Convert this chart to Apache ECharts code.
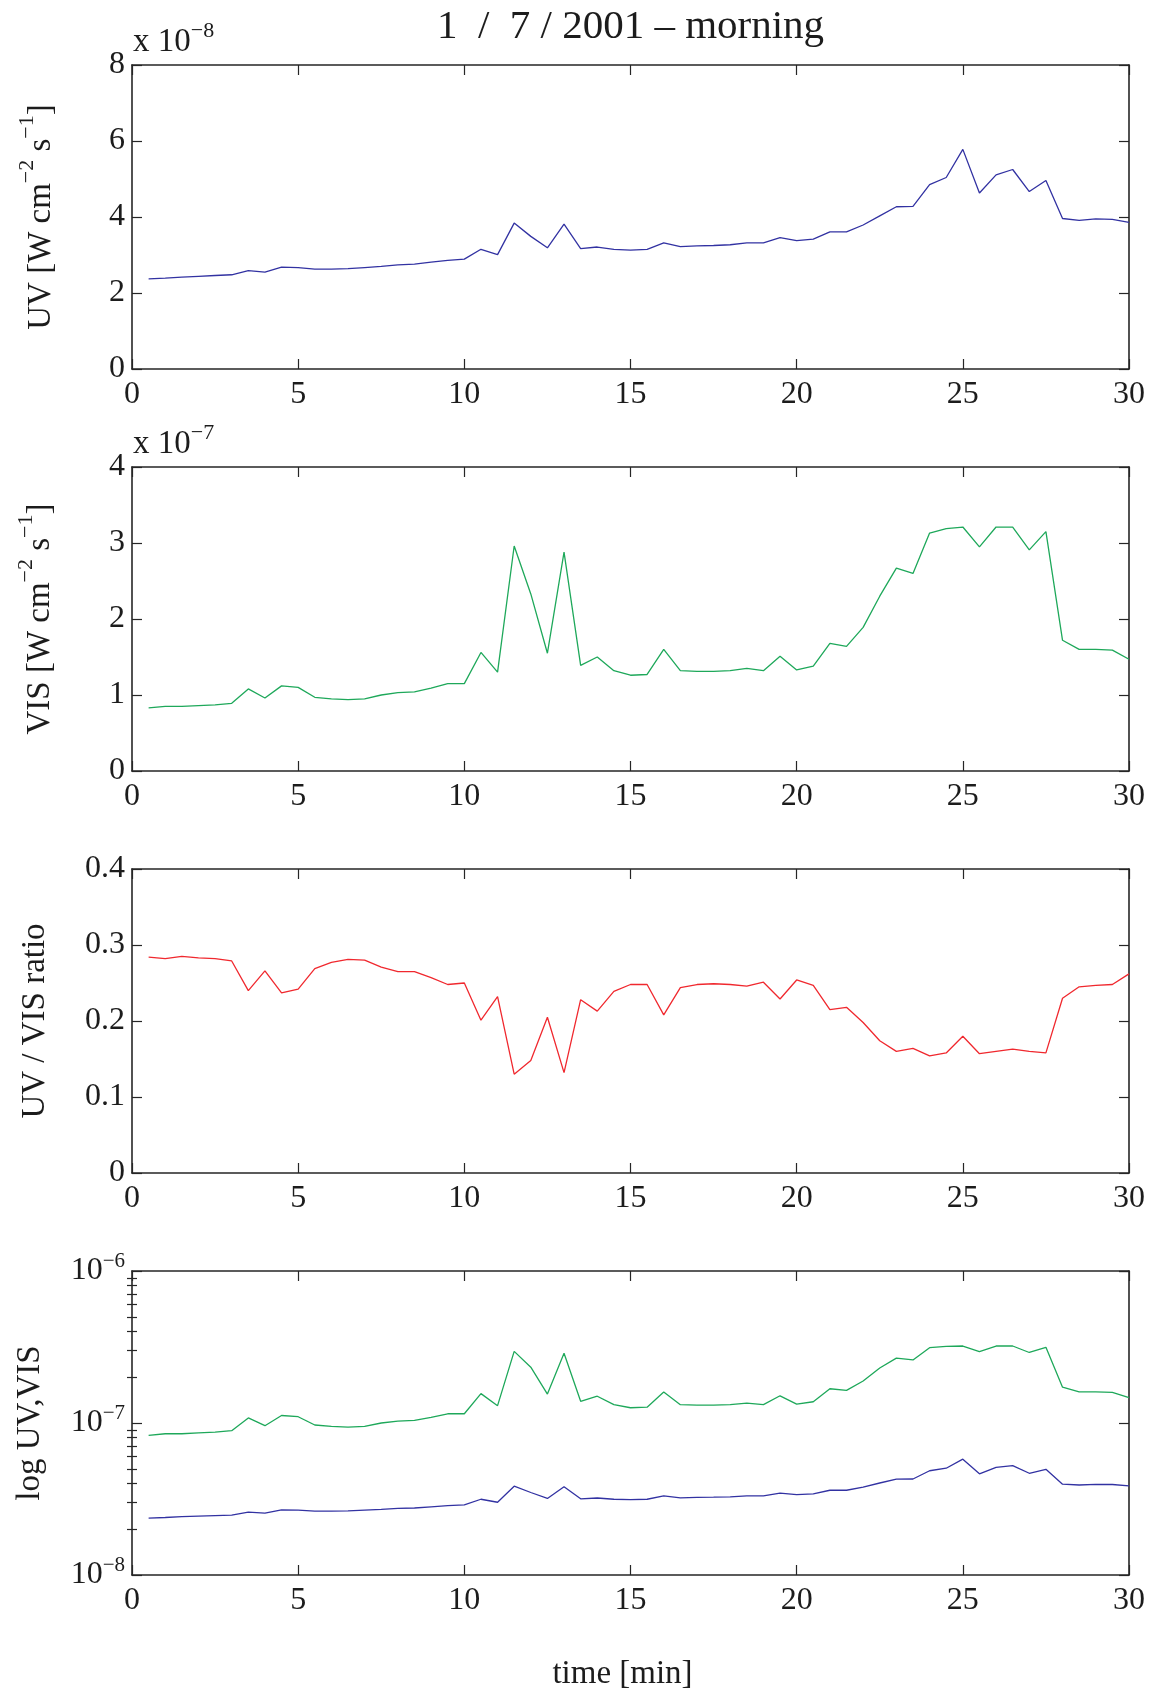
<!DOCTYPE html>
<html>
<head>
<meta charset="utf-8">
<script src="https://cdn.jsdelivr.net/npm/echarts@6/dist/echarts.min.js"></script>
<style>
  html, body { margin: 0; padding: 0; background: #fff; }
  #chart { width: 1154px; height: 1690px; }
</style>
</head>
<body>
<div id="chart"></div>
<script>
// Sampling times, minutes
const minutes = [
  0.5, 1.0, 1.5, 2.0, 2.5, 3.0, 3.5, 4.0, 4.5, 5.0,
  5.5, 6.0, 6.5, 7.0, 7.5, 8.0, 8.5, 9.0, 9.5, 10.0,
  10.5, 11.0, 11.5, 12.0, 12.5, 13.0, 13.5, 14.0, 14.5, 15.0,
  15.5, 16.0, 16.5, 17.0, 17.5, 18.0, 18.5, 19.0, 19.5, 20.0,
  20.5, 21.0, 21.5, 22.0, 22.5, 23.0, 23.5, 24.0, 24.5, 25.0,
  25.5, 26.0, 26.5, 27.0, 27.5, 28.0, 28.5, 29.0, 29.5, 30.0
];

// UV irradiance, W cm^-2 s^-1
const uv = [
  2.37e-8, 2.39e-8, 2.42e-8, 2.44e-8, 2.46e-8, 2.48e-8, 2.59e-8, 2.55e-8, 2.68e-8, 2.67e-8,
  2.63e-8, 2.63e-8, 2.64e-8, 2.67e-8, 2.70e-8, 2.74e-8, 2.76e-8, 2.81e-8, 2.86e-8, 2.89e-8,
  3.15e-8, 3.01e-8, 3.84e-8, 3.49e-8, 3.19e-8, 3.81e-8, 3.17e-8, 3.21e-8, 3.15e-8, 3.13e-8,
  3.15e-8, 3.32e-8, 3.22e-8, 3.24e-8, 3.25e-8, 3.27e-8, 3.32e-8, 3.32e-8, 3.46e-8, 3.38e-8,
  3.42e-8, 3.61e-8, 3.61e-8, 3.79e-8, 4.03e-8, 4.27e-8, 4.28e-8, 4.85e-8, 5.04e-8, 5.78e-8,
  4.63e-8, 5.11e-8, 5.25e-8, 4.67e-8, 4.96e-8, 3.96e-8, 3.91e-8, 3.95e-8, 3.94e-8, 3.86e-8
];

// Visible irradiance, W cm^-2 s^-1
const vis = [
  0.83e-7, 0.85e-7, 0.85e-7, 0.86e-7, 0.87e-7, 0.89e-7, 1.08e-7, 0.96e-7, 1.12e-7, 1.10e-7,
  0.97e-7, 0.95e-7, 0.94e-7, 0.95e-7, 1.00e-7, 1.03e-7, 1.04e-7, 1.09e-7, 1.15e-7, 1.15e-7,
  1.56e-7, 1.30e-7, 2.96e-7, 2.33e-7, 1.55e-7, 2.88e-7, 1.39e-7, 1.50e-7, 1.32e-7, 1.26e-7,
  1.27e-7, 1.60e-7, 1.32e-7, 1.31e-7, 1.31e-7, 1.32e-7, 1.35e-7, 1.32e-7, 1.51e-7, 1.33e-7,
  1.38e-7, 1.68e-7, 1.64e-7, 1.89e-7, 2.30e-7, 2.67e-7, 2.60e-7, 3.13e-7, 3.19e-7, 3.21e-7,
  2.95e-7, 3.21e-7, 3.21e-7, 2.91e-7, 3.15e-7, 1.72e-7, 1.60e-7, 1.60e-7, 1.59e-7, 1.47e-7
];

// UV / VIS ratio
const ratio = [
  0.284, 0.282, 0.285, 0.283, 0.282, 0.279, 0.240, 0.266, 0.237, 0.242,
  0.269, 0.277, 0.281, 0.280, 0.271, 0.265, 0.265, 0.257, 0.248, 0.250,
  0.201, 0.232, 0.130, 0.148, 0.205, 0.132, 0.228, 0.213, 0.239, 0.248,
  0.248, 0.208, 0.244, 0.248, 0.249, 0.248, 0.246, 0.251, 0.229, 0.254,
  0.247, 0.215, 0.218, 0.198, 0.174, 0.160, 0.164, 0.154, 0.158, 0.180,
  0.157, 0.160, 0.163, 0.160, 0.158, 0.230, 0.245, 0.247, 0.248, 0.262
];

// Tick values
const timeTicks = [0, 5, 10, 15, 20, 25, 30];
const uvTicks = [0, 2, 4, 6, 8];          // x 10^-8
const visTicks = [0, 1, 2, 3, 4];         // x 10^-7
const ratioTicks = [0, 0.1, 0.2, 0.3, 0.4];
const logMinorTicks = [
  2e-8, 3e-8, 4e-8, 5e-8, 6e-8, 7e-8, 8e-8, 9e-8,
  2e-7, 3e-7, 4e-7, 5e-7, 6e-7, 7e-7, 8e-7, 9e-7
];

const titleText = '1  /  7 / 2001 \u2013 morning';

// ---- layout & styling ----
const FONT = '"Liberation Serif", "Times New Roman", serif';
const INK = '#1c1c1c';
const AXIS = '#262626';
const COL_UV = '#3232a2';
const COL_VIS = '#1ea85a';
const COL_RATIO = '#f0282e';

const PLOT_LEFT = 132, PLOT_W = 997, PLOT_H = 304;
const PLOT_TOPS = [65, 467, 869, 1271];

const TICK_FS = 32, NAME_FS = 33;

const axisLine = { show: true, onZero: false, lineStyle: { color: AXIS, width: 1.6 } };
const tickStyle = (len) => ({ show: true, inside: true, length: len, lineStyle: { color: AXIS, width: 1.2 } });
const supRich = (fs, lh) => ({ sup: { fontSize: fs, fontFamily: FONT, color: INK, verticalAlign: 'top', lineHeight: lh } });

const pairs = (ys) => minutes.map((t, i) => [t, ys[i]]);

const grids = PLOT_TOPS.map(top => ({
  left: PLOT_LEFT, top: top, width: PLOT_W, height: PLOT_H,
  containLabel: false, outerBoundsMode: 'none'
}));

const xAxes = [];
const yAxes = [];

PLOT_TOPS.forEach((_, g) => {
  const isLast = g === PLOT_TOPS.length - 1;
  xAxes.push({
    gridIndex: g, type: 'value', position: 'bottom',
    min: timeTicks[0], max: timeTicks[timeTicks.length - 1], interval: timeTicks[1] - timeTicks[0],
    axisLine: axisLine, axisTick: tickStyle(10), splitLine: { show: false },
    axisLabel: { show: true, margin: 10, fontFamily: FONT, fontSize: TICK_FS, lineHeight: 32, color: INK },
    name: isLast ? 'time [min]' : '',
    nameLocation: 'middle', nameGap: 83,
    nameTextStyle: { fontFamily: FONT, fontSize: NAME_FS, color: INK, padding: [0, 16, 0, 0] }
  });
  xAxes.push({
    gridIndex: g, type: 'value', position: 'top',
    min: timeTicks[0], max: timeTicks[timeTicks.length - 1], interval: timeTicks[1] - timeTicks[0],
    axisLine: axisLine, axisTick: tickStyle(10), splitLine: { show: false },
    axisLabel: { show: false }
  });
});

function linearY(g, ticks, scale, fmt, name, nameGap) {
  const step = ticks[1] - ticks[0];
  yAxes.push({
    gridIndex: g, type: 'value', position: 'left',
    min: ticks[0] * scale, max: ticks[ticks.length - 1] * scale, interval: step * scale,
    axisLine: axisLine, axisTick: tickStyle(10), splitLine: { show: false },
    axisLabel: { margin: 7, fontFamily: FONT, fontSize: TICK_FS, color: INK, formatter: fmt },
    name: name, nameLocation: 'middle', nameRotate: 90, nameGap: nameGap,
    nameTextStyle: { fontFamily: FONT, fontSize: NAME_FS, lineHeight: 50, color: INK, rich: supRich(22, 20) }
  });
  yAxes.push({
    gridIndex: g, type: 'value', position: 'right',
    min: ticks[0] * scale, max: ticks[ticks.length - 1] * scale, interval: step * scale,
    axisLine: axisLine, axisTick: tickStyle(10), splitLine: { show: false },
    axisLabel: { show: false }
  });
}

linearY(0, uvTicks, 1e-8, v => String(Math.round(v / 1e-8)),
  'UV [W cm{sup|\u22122} s{sup|\u22121}]', 66);
linearY(1, visTicks, 1e-7, v => String(Math.round(v / 1e-7)),
  'VIS [W cm{sup|\u22122} s{sup|\u22121}]', 67);
linearY(2, ratioTicks, 1, v => (v === 0 ? '0' : v.toFixed(1)),
  'UV / VIS ratio', 72);

// logarithmic panel: decades with labels, plus minor ticks on both sides
const logFmt = v => '10{sup|\u2212' + Math.abs(Math.round(Math.log10(v))) + '}';
yAxes.push({
  gridIndex: 3, type: 'log', logBase: 10, position: 'left', min: 1e-8, max: 1e-6,
  axisLine: axisLine, axisTick: tickStyle(10), splitLine: { show: false }, minorTick: { show: false },
  axisLabel: { margin: 7, fontFamily: FONT, fontSize: TICK_FS, lineHeight: 40, color: INK, formatter: logFmt, rich: supRich(21, 20) },
  name: 'log UV,VIS', nameLocation: 'middle', nameRotate: 90, nameGap: 77,
  nameTextStyle: { fontFamily: FONT, fontSize: NAME_FS, lineHeight: 50, color: INK }
});
yAxes.push({
  gridIndex: 3, type: 'log', logBase: 10, position: 'right', min: 1e-8, max: 1e-6,
  axisLine: axisLine, axisTick: tickStyle(10), splitLine: { show: false }, minorTick: { show: false },
  axisLabel: { show: false }
});
['left', 'right'].forEach(pos => {
  yAxes.push({
    gridIndex: 3, type: 'log', logBase: 10, position: pos, min: 1e-8, max: 1e-6,
    axisLine: { show: false }, splitLine: { show: false },
    axisTick: Object.assign(tickStyle(5), { customValues: logMinorTicks }),
    axisLabel: { show: false }
  });
});

const lineSeries = (name, xi, yi, ys, color) => ({
  name: name, type: 'line', xAxisIndex: xi, yAxisIndex: yi, data: pairs(ys),
  showSymbol: false, symbol: 'none', smooth: false, silent: true,
  lineStyle: { color: color, width: 1.3 }, itemStyle: { color: color }
});

const multiplier = (exp, top) => ({
  type: 'text', x: PLOT_LEFT + 1, y: top - 1,
  style: { text: 'x 10{sup|\u2212' + exp + '}', font: '33px ' + FONT, fill: INK, lineHeight: 44,
           align: 'left', verticalAlign: 'bottom',
           rich: { sup: { fontSize: 22, fontFamily: FONT, fill: INK, verticalAlign: 'top', lineHeight: 12 } } }
});

const option = {
  animation: false,
  backgroundColor: '#ffffff',
  grid: grids,
  xAxis: xAxes,
  yAxis: yAxes,
  series: [
    lineSeries('UV', 0, 0, uv, COL_UV),
    lineSeries('VIS', 2, 2, vis, COL_VIS),
    lineSeries('UV/VIS', 4, 4, ratio, COL_RATIO),
    lineSeries('VIS (log)', 6, 6, vis, COL_VIS),
    lineSeries('UV (log)', 6, 6, uv, COL_UV)
  ],
  graphic: [
    {
      type: 'text', x: PLOT_LEFT + PLOT_W / 2, y: 27,
      style: { text: titleText, font: '41px ' + FONT, fill: INK,
               align: 'center', verticalAlign: 'middle', textAlign: 'center', textVerticalAlign: 'middle' }
    },
    multiplier(8, PLOT_TOPS[0]),
    multiplier(7, PLOT_TOPS[1])
  ]
};

const chart = echarts.init(document.getElementById('chart'), null, { renderer: 'canvas' });
chart.setOption(option);
</script>
</body>
</html>
